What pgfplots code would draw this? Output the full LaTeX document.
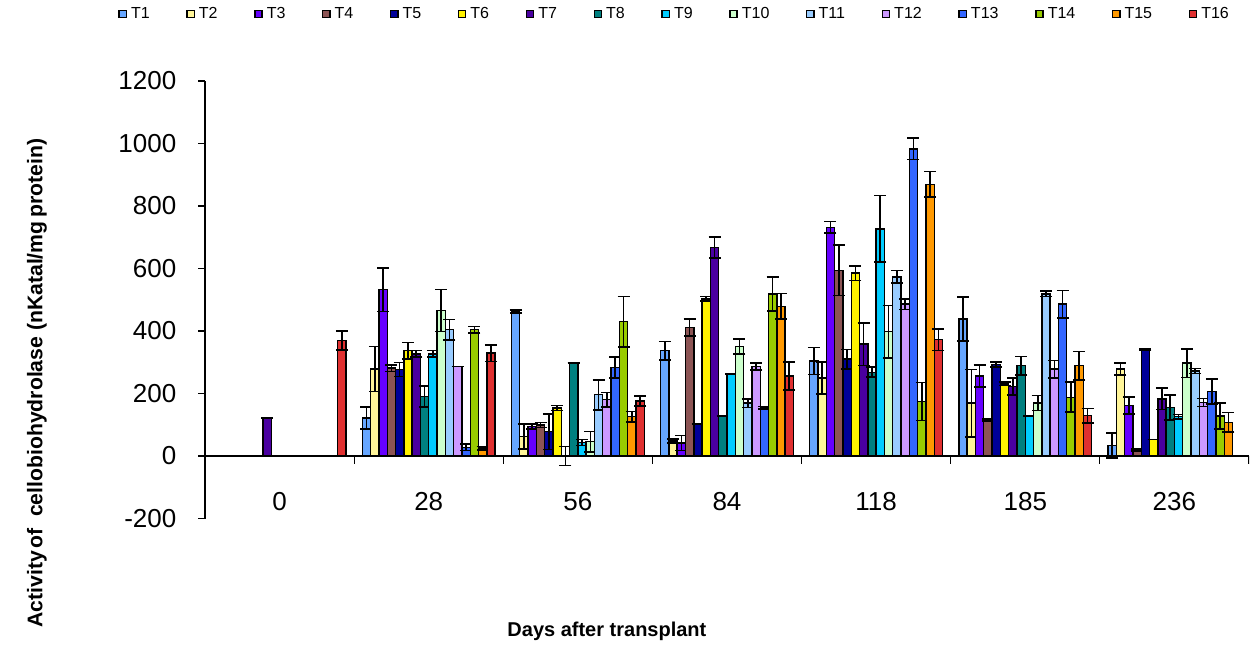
\documentclass[border=0pt]{standalone}
\usepackage{fontspec}
\setmainfont{Liberation Sans}
\usepackage{pgfplots}
\pgfplotsset{compat=1.18}

\definecolor{cT1}{HTML}{66A6FF}
\definecolor{cT2}{HTML}{FFF599}
\definecolor{cT3}{HTML}{6600FF}
\definecolor{cT4}{HTML}{8C5454}
\definecolor{cT5}{HTML}{000099}
\definecolor{cT6}{HTML}{FFF200}
\definecolor{cT7}{HTML}{4A00A0}
\definecolor{cT8}{HTML}{008080}
\definecolor{cT9}{HTML}{00CCFF}
\definecolor{cT10}{HTML}{CCFFCC}
\definecolor{cT11}{HTML}{99CCFF}
\definecolor{cT12}{HTML}{CC99FF}
\definecolor{cT13}{HTML}{3366FF}
\definecolor{cT14}{HTML}{99CC00}
\definecolor{cT15}{HTML}{FF9900}
\definecolor{cT16}{HTML}{E03030}

\pgfplotsset{
  tbar/.style={fill=#1, draw=black, line width=0.7pt,
    error bars/.cd, y dir=both, y explicit,
    error bar style={line width=0.8pt, black},
    error mark options={rotate=90, mark size=3pt, line width=0.8pt, black}},
}

\begin{document}
\begin{tikzpicture}
\path[use as bounding box] (-102.5pt,-62.75pt) rectangle (524.5pt,259.25pt);
\begin{axis}[
  at={(0,0)}, anchor=south west,
  scale only axis, width=522pt, height=218.75pt,
  ybar=0pt, bar width=4.15pt,
  xmin=-0.5, xmax=6.5, ymin=-200, ymax=1200,
  axis y line*=left, axis x line*=bottom,
  x axis line style={draw=none},
  y axis line style={line width=0.6pt, -},
  xtick={0,...,6}, xticklabels={0,28,56,84,118,185,236},
  xtick style={draw=none},
  ytick={-200,0,...,1200},
  tick align=outside, major tick length=3.3pt,
  ytick style={line width=0.6pt, black},
  /pgf/number format/assume math mode=true,
  /pgf/number format/1000 sep={},
  ticklabel style={font=\fontsize{13}{15}\selectfont},
  xticklabel style={anchor=center, yshift=12pt},
  yticklabel style={xshift=-7.5pt},
  ylabel={\bfseries Activity\kern1pt of\ \ cellobiohydrolase (nKatal/mg\kern2pt protein)},
  ylabel style={at={(axis description cs:-0.161,0.31)}, anchor=center, font=\fontsize{10.6}{12}\selectfont},
  xlabel={\bfseries Days after transplant},
  xlabel style={at={(axis description cs:0.385,-0.259)}, anchor=center, font=\fontsize{10}{12}\selectfont},
  legend columns=16,
  legend style={at={(axis description cs:-0.0833,1.153)}, anchor=west,
    draw=none, fill=none, inner sep=0pt,
    font=\fontsize{8}{9}\selectfont,
    /tikz/every even column/.append style={column sep=16.3pt}},
  legend image code/.code={\draw[#1, draw=black, line width=0.7pt] (0pt,-1.8pt) rectangle (3.6pt,1.8pt);},
]
% T1 .. T16, days 0 28 56 84 118 185 236
\addplot[tbar=cT1] coordinates {(1,122) +- (0,35) (2,463) +- (0,5) (3,337) +- (0,30) (4,304) +- (0,43) (5,438) +- (0,70) (6,33) +- (0,40)};
\addplot[tbar=cT2] coordinates {(1,278) +- (0,72) (2,62) +- (0,40) (3,48) +- (0,6) (4,249) +- (0,51) (5,169) +- (0,108) (6,278) +- (0,19)};
\addplot[tbar=cT3] coordinates {(1,532) +- (0,70) (2,94) +- (0,8) (3,41) +- (0,24) (4,732) +- (0,18) (5,256) +- (0,36) (6,161) +- (0,27)};
\addplot[tbar=cT4] coordinates {(1,281) +- (0,10) (2,99) +- (0,8) (3,411) +- (0,27) (4,594) +- (0,81) (5,115) +- (0,3) (6,19) +- (0,3)};
\addplot[tbar=cT5] coordinates {(1,277) +- (0,22) (2,78) +- (0,57) (3,102) +- (0,0) (4,310) +- (0,31) (5,292) +- (0,8) (6,340) +- (0,3)};
\addplot[tbar=cT6] coordinates {(1,337) +- (0,26) (2,153) +- (0,8) (3,503) +- (0,7) (4,585) +- (0,23) (5,231) +- (0,5) (6,53) +- (0,0)};
\addplot[tbar=cT7] coordinates {(0,121) +- (0,0) (1,327) +- (0,10) (2,0) +- (0,30) (3,667) +- (0,33) (4,358) +- (0,68) (5,222) +- (0,27) (6,183) +- (0,34)};
\addplot[tbar=cT8] coordinates {(1,190) +- (0,34) (2,297) +- (0,0) (3,128) +- (0,0) (4,268) +- (0,16) (5,289) +- (0,30) (6,155) +- (0,40)};
\addplot[tbar=cT9] coordinates {(1,327) +- (0,10) (2,43) +- (0,10) (3,263) +- (0,0) (4,727) +- (0,107) (5,128) +- (0,0) (6,126) +- (0,7)};
\addplot[tbar=cT10] coordinates {(1,466) +- (0,67) (2,46) +- (0,33) (3,350) +- (0,24) (4,398) +- (0,84) (5,169) +- (0,24) (6,297) +- (0,46)};
\addplot[tbar=cT11] coordinates {(1,404) +- (0,33) (2,196) +- (0,48) (3,169) +- (0,14) (4,573) +- (0,20) (5,519) +- (0,9) (6,272) +- (0,8)};
\addplot[tbar=cT12] coordinates {(1,286) +- (0,0) (2,180) +- (0,23) (3,286) +- (0,11) (4,486) +- (0,17) (5,278) +- (0,28) (6,171) +- (0,13)};
\addplot[tbar=cT13] coordinates {(1,28) +- (0,10) (2,283) +- (0,33) (3,155) +- (0,4) (4,983) +- (0,34) (5,486) +- (0,44) (6,207) +- (0,40)};
\addplot[tbar=cT14] coordinates {(1,404) +- (0,10) (2,430) +- (0,81) (3,518) +- (0,54) (4,174) +- (0,61) (5,188) +- (0,48) (6,128) +- (0,41)};
\addplot[tbar=cT15] coordinates {(1,25) +- (0,6) (2,126) +- (0,17) (3,479) +- (0,41) (4,869) +- (0,41) (5,289) +- (0,46) (6,108) +- (0,31)};
\addplot[tbar=cT16] coordinates {(0,370) +- (0,30) (1,329) +- (0,26) (2,176) +- (0,16) (3,256) +- (0,44) (4,372) +- (0,34) (5,129) +- (0,23)};
\legend{T1,T2,T3,T4,T5,T6,T7,T8,T9,T10,T11,T12,T13,T14,T15,T16}
% zero line with category separators
\draw[line width=0.6pt] (axis cs:-0.5,0) -- (axis cs:6.5,0);
\pgfplotsinvokeforeach{0.5,1.5,2.5,3.5,4.5,5.5,6.5}{\draw[line width=0.6pt] (axis cs:#1,0) -- ++(0pt,-3.8pt);}
\end{axis}
\end{tikzpicture}
\end{document}
